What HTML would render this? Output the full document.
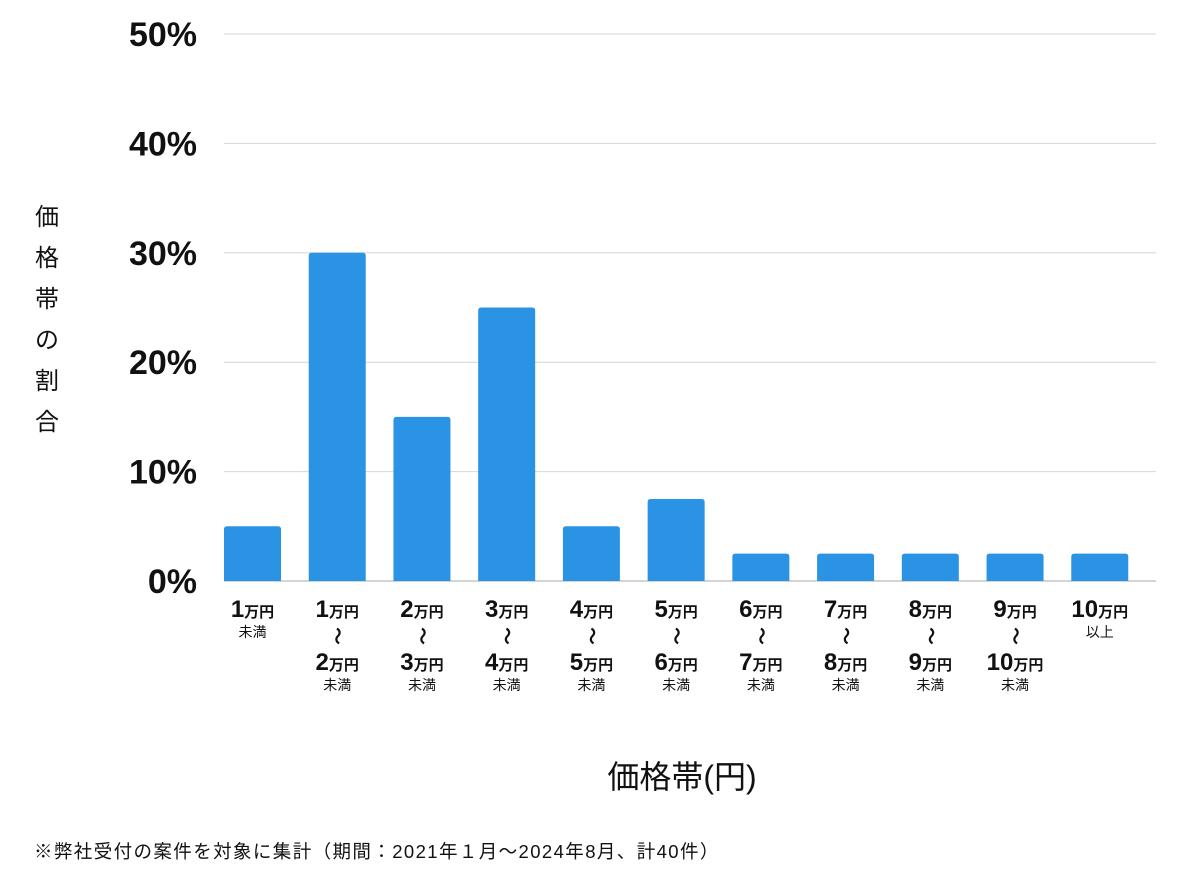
<!DOCTYPE html>
<html><head><meta charset="utf-8">
<style>
html,body{margin:0;padding:0;background:#fff;}
svg{display:block;font-family:"Liberation Sans","Noto Sans CJK JP",sans-serif;}
</style></head>
<body>
<svg id="chart" width="1200" height="874" viewBox="0 0 1200 874">
<g id="grid"></g>
<g id="ylabels"></g>
<g id="bars"></g>
<g id="xlabels"></g>
<g font-size="24" fill="#111" text-anchor="middle">
<text x="47" y="225">価</text><text x="47" y="266">格</text><text x="47" y="307">帯</text>
<text x="47" y="348">の</text><text x="47" y="389">割</text><text x="47" y="430">合</text>
</g>
<text x="682" y="788" font-size="32" text-anchor="middle" fill="#111">価格帯(円)</text>
<text x="34" y="858" font-size="18.5" letter-spacing="1.4" fill="#111">※弊社受付の案件を対象に集計（期間：2021年１月〜2024年8月、計40件）</text>
</svg>
<script>
const categoriesFrom = ["1","1","2","3","4","5","6","7","8","9","10"];
const categoriesTo = ["","2","3","4","5","6","7","8","9","10",""];
const categoriesSuffix = ["未満","未満","未満","未満","未満","未満","未満","未満","未満","未満","以上"];
const values = [5,30,15,25,5,7.5,2.5,2.5,2.5,2.5,2.5];
const yTicks = [0,10,20,30,40,50];
const yTickLabels = ["0%","10%","20%","30%","40%","50%"];

const NS="http://www.w3.org/2000/svg";
const x0=224, x1=1156, y0=581, y50=34, yMax=50;
const band=(x1-x0)/values.length, barW=57;
const yScale=v=>y0-(v/yMax)*(y0-y50);
const xScale=i=>x0+i*band;
function mk(tag,attrs,parent,txt){const e=document.createElementNS(NS,tag);for(const k in attrs)e.setAttribute(k,attrs[k]);if(txt!==undefined)e.textContent=txt;parent.appendChild(e);return e;}
const grid=document.getElementById('grid'),yl=document.getElementById('ylabels'),bars=document.getElementById('bars'),xl=document.getElementById('xlabels');
yTicks.forEach((t,i)=>{
  const l=mk('line',{x1:x0,x2:x1,y1:yScale(t),y2:yScale(t),stroke:t===0?'#aaa':'#d6d6d6','stroke-width':1},grid);
  
  
  const tx=mk('text',{x:197,y:yScale(t)+12,'font-size':34,'font-weight':'bold','text-anchor':'end',fill:'#111'},yl,yTickLabels[i]);
  
  
});
values.forEach((v,i)=>{
  const x=xScale(i), top=yScale(v);
  const r=mk('path',{d:`M${x},${y0}V${top+3}Q${x},${top} ${x+3},${top}H${x+barW-3}Q${x+barW},${top} ${x+barW},${top+3}V${y0}Z`,fill:'#2a93e3'},bars);
  
  
  const cx=x+barW/2;
  const g=mk('g',{fill:'#111','text-anchor':'middle'},xl);
  
  
  const t1=mk('text',{x:cx,y:617,'font-weight':'bold'},g);
  mk('tspan',{'font-size':24},t1,categoriesFrom[i]);
  mk('tspan',{'font-size':15},t1,'万円');
  if(categoriesTo[i]){
    mk('text',{x:cx,y:642,'font-size':18,'font-weight':'bold',transform:`rotate(90 ${cx} 636)`},g,'〜');
    const t2=mk('text',{x:cx,y:670,'font-weight':'bold'},g);
    mk('tspan',{'font-size':24},t2,categoriesTo[i]);
    mk('tspan',{'font-size':15},t2,'万円');
    mk('text',{x:cx,y:690,'font-size':14},g,categoriesSuffix[i]);
  } else {
    mk('text',{x:cx,y:637,'font-size':14},g,categoriesSuffix[i]);
  }
});
</script>
</body></html>
